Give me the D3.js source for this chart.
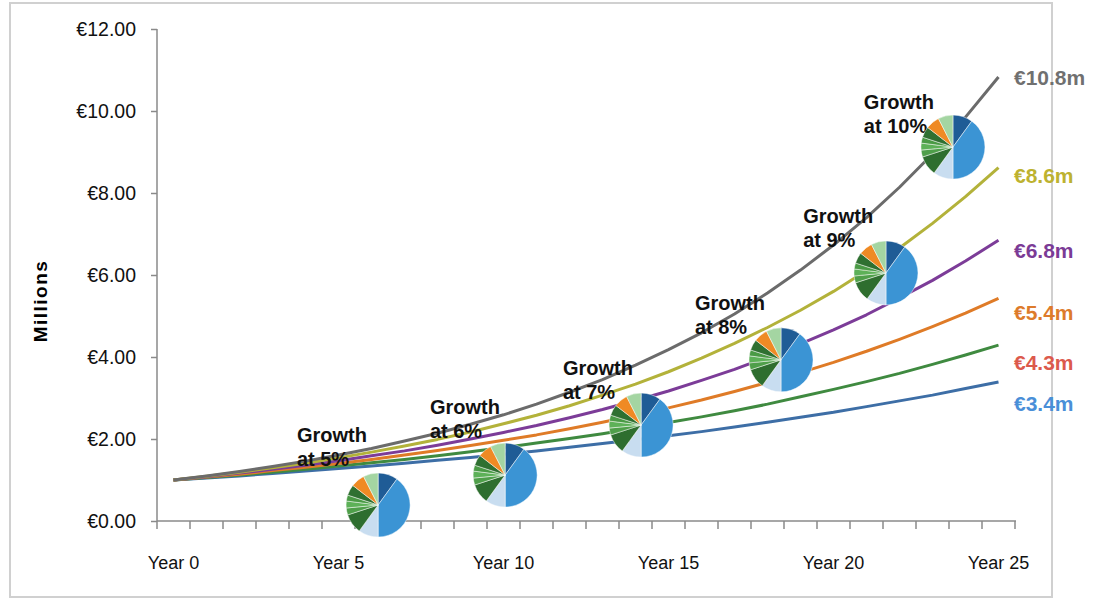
<!DOCTYPE html>
<html>
<head>
<meta charset="utf-8">
<script src="https://cdn.jsdelivr.net/npm/d3@7"></script>
<style>
  body { margin: 0; background: #fff; }
</style>
</head>
<body>
<div id="chart"></div>
<script>
// categories (x axis)
const years = ["Year 0", "Year 1", "Year 2", "Year 3", "Year 4", "Year 5", "Year 6", "Year 7", "Year 8",
    "Year 9", "Year 10", "Year 11", "Year 12", "Year 13", "Year 14", "Year 15", "Year 16", "Year 17",
    "Year 18", "Year 19", "Year 20", "Year 21", "Year 22", "Year 23", "Year 24", "Year 25"];
const xTickLabels = ["Year 0", "Year 5", "Year 10", "Year 15", "Year 20", "Year 25"];

// y axis
const yTicks = [0, 2, 4, 6, 8, 10, 12];
const yTickLabels = ["€0.00", "€2.00", "€4.00", "€6.00", "€8.00", "€10.00", "€12.00"];

// series, millions
const growth5 = [1.00, 1.05, 1.10, 1.16, 1.22, 1.28, 1.34, 1.41, 1.48, 1.55, 1.63, 1.71, 1.80, 1.89, 1.98, 2.08, 2.18, 2.29, 2.41, 2.53, 2.65, 2.79, 2.93, 3.07, 3.23, 3.39];
const growth6 = [1.00, 1.06, 1.12, 1.19, 1.26, 1.34, 1.42, 1.50, 1.59, 1.69, 1.79, 1.90, 2.01, 2.13, 2.26, 2.40, 2.54, 2.69, 2.85, 3.03, 3.21, 3.40, 3.60, 3.82, 4.05, 4.29];
const growth7 = [1.00, 1.07, 1.14, 1.23, 1.31, 1.40, 1.50, 1.61, 1.72, 1.84, 1.97, 2.10, 2.25, 2.41, 2.58, 2.76, 2.95, 3.16, 3.38, 3.62, 3.87, 4.14, 4.43, 4.74, 5.07, 5.43];
const growth8 = [1.00, 1.08, 1.17, 1.26, 1.36, 1.47, 1.59, 1.71, 1.85, 2.00, 2.16, 2.33, 2.52, 2.72, 2.94, 3.17, 3.43, 3.70, 4.00, 4.32, 4.66, 5.03, 5.44, 5.87, 6.34, 6.85];
const growth9 = [1.00, 1.09, 1.19, 1.30, 1.41, 1.54, 1.68, 1.83, 1.99, 2.17, 2.37, 2.58, 2.81, 3.07, 3.34, 3.64, 3.97, 4.33, 4.72, 5.14, 5.60, 6.11, 6.66, 7.26, 7.91, 8.62];
const growth10 = [1.00, 1.10, 1.21, 1.33, 1.46, 1.61, 1.77, 1.95, 2.14, 2.36, 2.59, 2.85, 3.14, 3.45, 3.80, 4.18, 4.59, 5.05, 5.56, 6.12, 6.73, 7.40, 8.14, 8.95, 9.85, 10.83];

const seriesNames = ["5%", "6%", "7%", "8%", "9%", "10%"];
const endLabels = ["€3.4m", "€4.3m", "€5.4m", "€6.8m", "€8.6m", "€10.8m"];

// annotations: "Growth at x%" text and small pies, anchored in data units (year, millions)
const noteYear = [3.74, 7.77, 11.80, 15.80, 19.08, 20.92];
const noteValue = [1.93, 2.61, 3.56, 5.15, 7.27, 10.05];
const pieYear = [6.2, 10.05, 14.17, 18.41, 21.59, 23.62];
const pieValue = [0.39, 1.12, 2.34, 3.93, 6.05, 9.12];
const pieShares = [10, 40, 10, 10, 3.5, 3.5, 3, 5.5, 7, 7.5];

const series = [growth5, growth6, growth7, growth8, growth9, growth10];

// --- styles
const lineColors = ["#3d6ea6", "#3f8a40", "#df7b27", "#7c3c98", "#b3b23a", "#6b6b6b"];
const labelColors = ["#4a8fd8", "#dc5a4c", "#dd7b2b", "#7b3b96", "#bdb230", "#707070"];
const labelDy = [29, 25, 22, 18, 15, 8];
const pieColors = ["#1f5c96", "#3b94d4", "#c8ddf0", "#2e6e2f", "#4f9f4a", "#5db158", "#4a9a45", "#2f7031", "#ef8a24", "#a4d5a2"];

const w = 1099, h = 599;
const svg = d3.select("#chart").append("svg")
    .attr("width", w).attr("height", h)
    .style("font-family", "'Liberation Sans', Arial, sans-serif");

// outer frame
svg.append("rect").attr("x", 10).attr("y", 3).attr("width", 1042).attr("height", 594)
    .attr("fill", "none").attr("stroke", "#d0d0d0").attr("stroke-width", 2);

// scales
const x = d3.scaleBand().domain(years).range([157, 1015]);
const bw = x.bandwidth();
const xPos = d3.scaleLinear().domain([0, years.length - 1])
    .range([x(years[0]) + bw / 2, x(years[years.length - 1]) + bw / 2]);
const y = d3.scaleLinear().domain([0, 12]).range([521, 29]);

// y axis
const yAxis = svg.append("g").attr("transform", "translate(157,0)")
    .call(d3.axisLeft(y).tickValues(yTicks).tickSize(6).tickPadding(15)
        .tickFormat((d, i) => yTickLabels[i]));
yAxis.select(".domain").attr("stroke", "#8a8a8a").attr("stroke-width", 1.5).attr("d", "M0,29V521");
yAxis.selectAll(".tick line").attr("stroke", "#8a8a8a").attr("stroke-width", 1.5);
yAxis.selectAll(".tick text").style("font-size", "19.5px").attr("fill", "#111");

// x axis: ticks on category boundaries, labels every 5 years
const xAxis = svg.append("g").attr("transform", "translate(0,521)");
xAxis.append("line").attr("x1", 157).attr("x2", x.range()[1] + 1)
    .attr("stroke", "#8a8a8a").attr("stroke-width", 1.5);
xAxis.selectAll("line.tk")
    .data(years.concat(["end"]))
    .join("line").attr("class", "tk")
    .attr("x1", (d, i) => i < years.length ? x(d) : x(years[years.length - 1]) + bw)
    .attr("x2", (d, i) => i < years.length ? x(d) : x(years[years.length - 1]) + bw)
    .attr("y1", 0).attr("y2", 8)
    .attr("stroke", "#8a8a8a").attr("stroke-width", 1.5);
xAxis.selectAll("text")
    .data(xTickLabels)
    .join("text")
    .attr("x", d => x(d) + bw / 2)
    .attr("y", 48)
    .attr("text-anchor", "middle")
    .style("font-size", "18px").attr("fill", "#111")
    .text(d => d);

// axis title
svg.append("text")
    .attr("transform", "translate(47,301) rotate(-90)")
    .attr("text-anchor", "middle")
    .style("font-size", "19px").style("font-weight", "bold").style("letter-spacing", "1.5px")
    .text("Millions");

// lines
const line = d3.line().x((d, i) => x(years[i]) + bw / 2).y(d => y(d));
svg.append("g").selectAll("path")
    .data(series)
    .join("path")
    .attr("d", line)
    .attr("fill", "none")
    .attr("stroke", (d, i) => lineColors[i])
    .attr("stroke-width", 3)
    .attr("stroke-linejoin", "round");

// end labels
svg.append("g").selectAll("text")
    .data(series)
    .join("text")
    .attr("x", 1014)
    .attr("y", (d, i) => y(d[d.length - 1]) + labelDy[i])
    .style("font-size", "21px").style("font-weight", "bold")
    .attr("fill", (d, i) => labelColors[i])
    .text((d, i) => endLabels[i]);

// "Growth at x%" notes
const notes = svg.append("g").selectAll("text")
    .data(seriesNames)
    .join("text")
    .attr("x", (d, i) => xPos(noteYear[i]))
    .attr("y", (d, i) => y(noteValue[i]))
    .style("font-size", "20px").style("font-weight", "bold").attr("fill", "#111");
notes.append("tspan").text("Growth");
notes.append("tspan").attr("x", (d, i) => xPos(noteYear[i])).attr("dy", 24).text(d => "at " + d);

// small pies
const pie = d3.pie().sort(null).value(d => d);
const arc = d3.arc().innerRadius(0).outerRadius(32);
const pies = svg.append("g").selectAll("g")
    .data(seriesNames)
    .join("g")
    .attr("transform", (d, i) => `translate(${xPos(pieYear[i])},${y(pieValue[i])})`);
pies.selectAll("path")
    .data(pie(pieShares))
    .join("path")
    .attr("d", arc)
    .attr("fill", (d, i) => pieColors[i])
    .attr("stroke", "#fff").attr("stroke-opacity", 0.6).attr("stroke-width", 0.8);
</script>
</body>
</html>
